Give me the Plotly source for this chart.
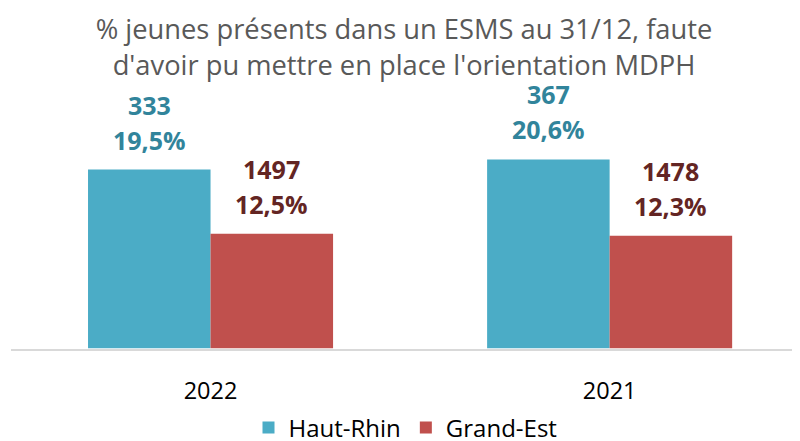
import plotly.graph_objects as go

categories = ["2022", "2021"]
series_names = ["Haut-Rhin", "Grand-Est"]
pct_haut_rhin = [19.5, 20.6]
pct_grand_est = [12.5, 12.3]
count_haut_rhin = [333, 367]
count_grand_est = [1497, 1478]

colors = ["#4BACC6", "#C0504D"]
label_colors = ["#31849B", "#632523"]
FONT = "Open Sans"

fig = go.Figure()
series = [(pct_haut_rhin, count_haut_rhin), (pct_grand_est, count_grand_est)]
for i, (vals, counts) in enumerate(series):
    fig.add_trace(go.Bar(
        x=categories, y=vals, name=series_names[i],
        marker=dict(color=colors[i], line=dict(width=0)),
        hoverinfo="skip",
    ))

annotations = []
for i, (vals, counts) in enumerate(series):
    shift = -61 if i == 0 else 61
    for j, (v, n) in enumerate(zip(vals, counts)):
        pct_txt = f"{v:.1f}%".replace(".", ",")
        annotations.append(dict(x=j, y=v, xref="x", yref="y", text=f"<b>{pct_txt}</b>",
                                showarrow=False, xshift=shift, yshift=30, yanchor="middle",
                                font=dict(family=FONT, size=25, color=label_colors[i])))
        annotations.append(dict(x=j, y=v, xref="x", yref="y", text=f"<b>{n}</b>",
                                showarrow=False, xshift=shift, yshift=65, yanchor="middle",
                                font=dict(family=FONT, size=25, color=label_colors[i])))

fig.update_layout(
    width=792, height=433,
    paper_bgcolor="white", plot_bgcolor="white",
    margin=dict(l=3, r=0, t=90, b=86),
    barmode="group", bargap=0.386, bargroupgap=0,
    title=dict(text="% jeunes présents dans un ESMS au 31/12, faute<br>d'avoir pu mettre en place l'orientation MDPH",
               x=0.5, xanchor="center", y=0.928, yanchor="middle",
               font=dict(family=FONT, size=27.3, color="#595959")),
    font=dict(family=FONT, color="#262626"),
    xaxis=dict(type="category", range=[-0.5, 1.477], showline=True, linecolor="#D9D9D9",
               linewidth=1.5, ticks="", tickfont=dict(size=23.5, color="#000000"),
               ticklabelstandoff=20, showgrid=False, zeroline=False),
    yaxis=dict(range=[0, 27.3], visible=False, showgrid=False, zeroline=False),
    legend=dict(orientation="h", x=0.5, xanchor="center", yref="container", y=0.03,
                yanchor="middle", font=dict(family=FONT, size=24, color="#000000"),
                traceorder="normal"),
    annotations=annotations,
    showlegend=True,
)

fig.write_html("out.html")
